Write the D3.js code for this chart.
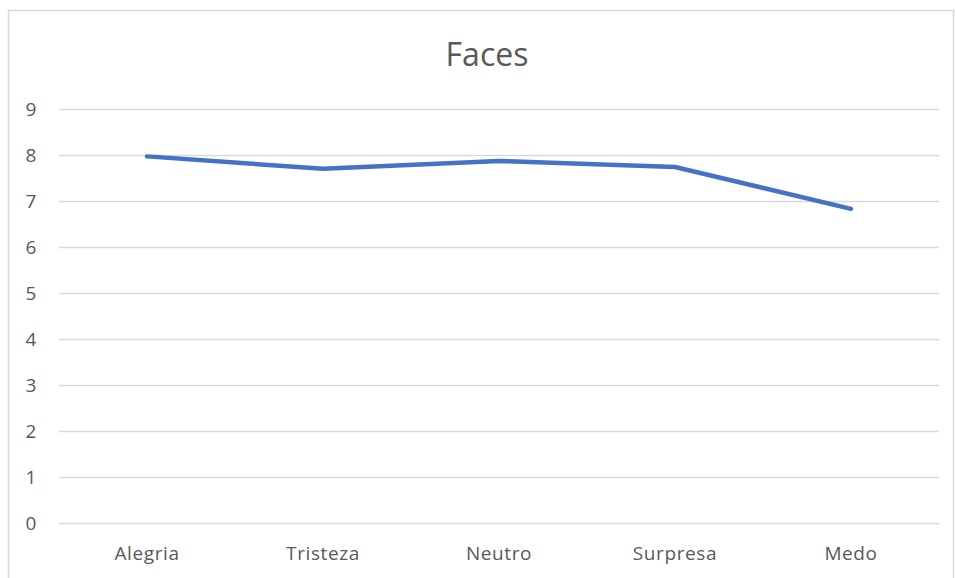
<!DOCTYPE html>
<html><head><meta charset="utf-8">
<script src="https://cdn.jsdelivr.net/npm/d3@7"></script>
<style>body{margin:0;background:#fff}svg{display:block}</style>
</head><body>
<script>
const categories = ["Alegria","Tristeza","Neutro","Surpresa","Medo"];
const values = [7.97, 7.70, 7.87, 7.74, 6.83];
const yTicks = [0,1,2,3,4,5,6,7,8,9];
const title = "Faces";

(function(){
const W = 955, H = 578;
const svg = d3.select("body").append("svg").attr("width", W).attr("height", H);
svg.append("rect").attr("x", 8.5).attr("y", 10.5).attr("width", 945).attr("height", 600)
  .attr("fill", "#fff").attr("stroke", "#d9d9d9").attr("stroke-width", 1.5);

const mLeft = 59, mRight = 939, mTop = 109, mBottom = 523;
const x = d3.scaleBand().domain(categories).range([mLeft, mRight]);
const y = d3.scaleLinear().domain([0, 9]).range([mBottom, mTop]);
const font = "'Open Sans', 'Liberation Sans', sans-serif";

svg.append("text").attr("x", 487).attr("y", 66).attr("text-anchor", "middle")
  .attr("font-family", font).attr("font-size", 32).attr("fill", "#595959").text(title);

const yAxis = d3.axisLeft(y).tickValues(yTicks).tickSize(-(mRight-mLeft)).tickPadding(22);
const gy = svg.append("g").attr("transform", `translate(${mLeft},0)`).call(yAxis);
gy.select(".domain").remove();
gy.selectAll(".tick line").attr("stroke", "#d9d9d9").attr("stroke-width", 1.3);
gy.selectAll(".tick text").attr("font-family", font).attr("font-size", 19).attr("fill", "#595959")
  .attr("text-anchor", "middle").attr("x", -28);

const xAxis = d3.axisBottom(x).tickSize(0).tickPadding(24);
const gx = svg.append("g").attr("transform", `translate(0,${mBottom})`).call(xAxis);
gx.select(".domain").remove();
gx.selectAll(".tick text").attr("font-family", font).attr("font-size", 19)
  .attr("letter-spacing", 0.6).attr("fill", "#595959");

const line = d3.line().x((d,i) => x(categories[i]) + x.bandwidth()/2).y(d => y(d));
svg.append("path").datum(values).attr("d", line).attr("fill", "none")
  .attr("stroke", "#4472C4").attr("stroke-width", 4.5)
  .attr("stroke-linecap", "round").attr("stroke-linejoin", "round");
})();
</script>
</body></html>
